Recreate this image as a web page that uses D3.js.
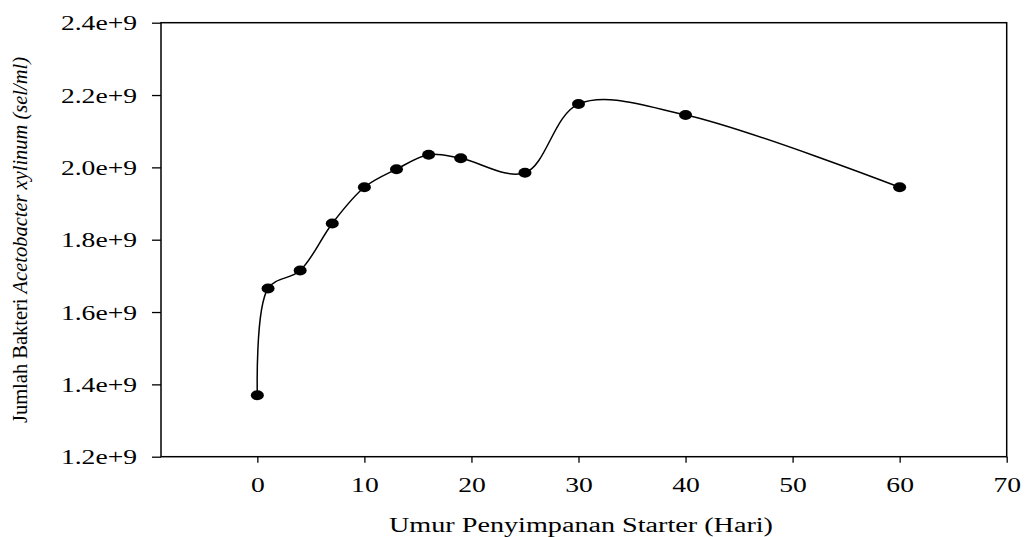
<!DOCTYPE html>
<html>
<head>
<meta charset="utf-8">
<script src="https://cdn.jsdelivr.net/npm/d3@7"></script>
<style>
  body { margin: 0; background: #fff; }
  text { font-family: 'Liberation Serif', 'Times New Roman', serif; fill: #000; }
</style>
</head>
<body>
<div id="graf"></div>
<script>
// Umur penyimpanan starter vs jumlah bakteri

const hari   = [0, 1, 4, 7, 10, 13, 16, 19, 25, 30, 40, 60]
const jumlah = [1.37e9, 1.665e9, 1.715e9, 1.845e9, 1.945e9, 1.995e9,
                2.035e9, 2.025e9, 1.985e9, 2.175e9, 2.145e9, 1.945e9]

const xTicks = [0, 10, 20, 30, 40, 50, 60, 70]
const yTicks = [1.2e9, 1.4e9, 1.6e9, 1.8e9, 2.0e9, 2.2e9, 2.4e9]
const yTickLabels = ['1.2e+9', '1.4e+9', '1.6e+9', '1.8e+9', '2.0e+9', '2.2e+9', '2.4e+9']

const ancho_total = 1025
const alto_total  = 537
const plot = { left: 161, right: 1006.7, top: 22.7, bottom: 456.7 }
const sx = 1.38   // estiramiento horizontal del texto

const svg = d3.select('#graf').append('svg')
  .attr('width', ancho_total)
  .attr('height', alto_total)

const x = d3.scaleLinear().domain([-9, 70]).range([plot.left, plot.right])
const y = d3.scaleLinear().domain([1.2e9, 2.4e9]).range([plot.bottom, plot.top])

// Ejes
const xAxis = d3.axisBottom(x)
  .tickValues(xTicks)
  .tickFormat(d3.format('d'))
  .tickSize(6)
  .tickSizeOuter(0)
  .tickPadding(15)

const yAxis = d3.axisLeft(y)
  .tickValues(yTicks)
  .tickFormat((d, i) => yTickLabels[i])
  .tickSize(9)
  .tickSizeOuter(0)

const gx = svg.append('g')
  .attr('transform', `translate(0,${plot.bottom})`)
  .call(xAxis)
gx.select('.domain').remove()
gx.selectAll('line').attr('stroke', '#000').attr('stroke-width', 1.3)
gx.selectAll('text')
  .attr('font-size', 20)
  .attr('font-family', 'Liberation Serif')
  .attr('transform', `scale(${sx},1)`)

const gy = svg.append('g')
  .attr('transform', `translate(${plot.left},0)`)
  .call(yAxis)
gy.select('.domain').remove()
gy.selectAll('line').attr('stroke', '#000').attr('stroke-width', 1.3)
gy.selectAll('text')
  .attr('font-size', 20)
  .attr('font-family', 'Liberation Serif')
  .attr('x', -24 / sx)
  .attr('dy', '0.36em')
  .attr('transform', `scale(${sx},1)`)

// Marco
svg.append('rect')
  .attr('x', plot.left)
  .attr('y', plot.top)
  .attr('width', plot.right - plot.left)
  .attr('height', plot.bottom - plot.top)
  .attr('fill', 'none')
  .attr('stroke', '#000')
  .attr('stroke-width', 1.5)

// Curva suavizada por los puntos
const puntos = hari.map((d, i) => [d, jumlah[i]])

const linea = d3.line()
  .x(d => x(d[0]))
  .y(d => y(d[1]))
  .curve(d3.curveCatmullRom.alpha(0.5))

svg.append('path')
  .datum(puntos)
  .attr('d', linea)
  .attr('fill', 'none')
  .attr('stroke', '#000')
  .attr('stroke-width', 1.5)

svg.selectAll('ellipse.punto')
  .data(puntos)
  .enter()
  .append('ellipse')
    .attr('class', 'punto')
    .attr('cx', d => x(d[0]))
    .attr('cy', d => y(d[1]))
    .attr('rx', 6.5)
    .attr('ry', 5)
    .attr('fill', '#000')

// Titulos
svg.append('text')
  .attr('x', (389 + 773) / 2)
  .attr('y', 532)
  .attr('text-anchor', 'middle')
  .attr('font-size', 20)
  .attr('textLength', 384)
  .attr('lengthAdjust', 'spacingAndGlyphs')
  .text('Umur Penyimpanan Starter (Hari)')

const ty = svg.append('text')
  .attr('transform', 'translate(27,240) rotate(-90)')
  .attr('text-anchor', 'middle')
  .attr('font-size', 20)
  .attr('textLength', 366)
  .attr('lengthAdjust', 'spacingAndGlyphs')
ty.append('tspan').text('Jumlah Bakteri ')
ty.append('tspan').attr('font-style', 'italic').text('Acetobacter xylinum (sel/ml)')
</script>
</body>
</html>
